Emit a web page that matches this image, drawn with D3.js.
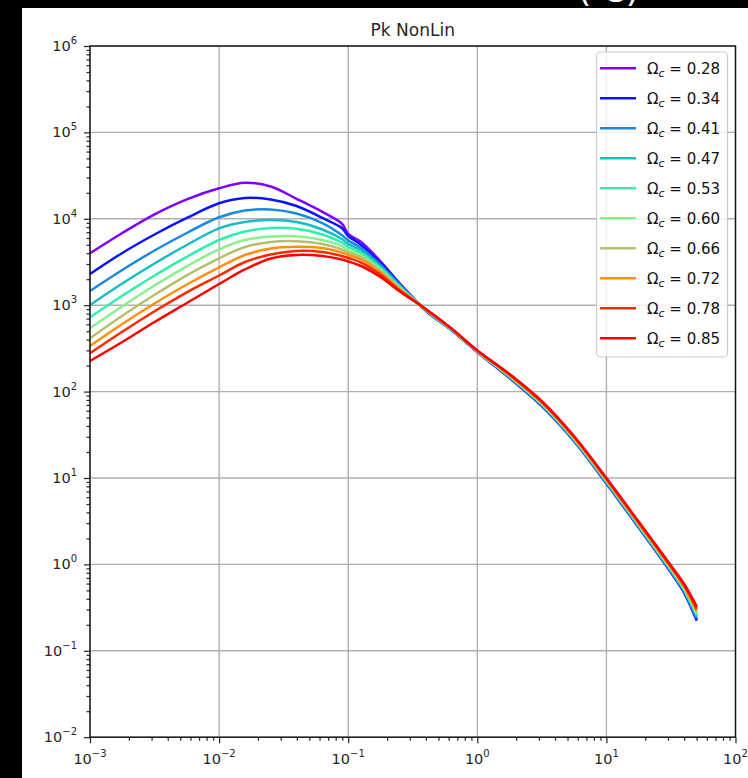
<!DOCTYPE html>
<html><head><meta charset="utf-8">
<script src="https://cdn.jsdelivr.net/npm/d3@7"></script>
<style>body{margin:0;background:#000;} svg{display:block;}</style>
</head><body>
<svg id="chart" width="748" height="778"></svg>
<script>
// ---- data ----
const kValues = [0.001, 0.001778, 0.003162, 0.005623, 0.01, 0.01585, 0.02512, 0.03981, 0.0631, 0.08913, 0.1, 0.1259, 0.1778, 0.2512, 0.3981, 0.631, 1, 1.778, 3.162, 5.623, 10, 17.78, 31.62, 39.81, 50.12];
const omegaLabels = ["0.28", "0.34", "0.41", "0.47", "0.53", "0.60", "0.66", "0.72", "0.78", "0.85"];
const seriesColors = ["#7f00ff", "#0a14ff", "#1a8ae0", "#17bcc4", "#2ef0a8", "#88f08c", "#b4c070", "#ff9010", "#ff2800", "#ff0000"];
const pk028 = [3990, 6850, 11270, 16810, 22540, 26100, 23650, 17040, 12020, 8820, 6670, 5390, 3220, 1783, 868, 516, 287, 145.2, 68.7, 26.9, 8.75, 2.71, 0.819, 0.484, 0.2315];
const pk034 = [2296, 4020, 6580, 10220, 15110, 17410, 16720, 14060, 10220, 7830, 6320, 4975, 3080, 1759, 868, 516, 287, 143.7, 67.8, 26.6, 8.64, 2.67, 0.804, 0.473, 0.223];
const pk041 = [1460, 2555, 4300, 6850, 10410, 12480, 12810, 11520, 8940, 6490, 5610, 4590, 2920, 1713, 880, 519, 289, 146, 69.0, 27.1, 8.82, 2.73, 0.825, 0.490, 0.236];
const pk047 = [1005, 1783, 3040, 4975, 7760, 9180, 9690, 9180, 7520, 5840, 5110, 4300, 2800, 1668, 880, 522, 290, 148.3, 70.5, 27.7, 9.01, 2.80, 0.850, 0.508, 0.249];
const pk053 = [724, 1285, 2207, 3633, 5680, 7130, 7830, 7660, 6580, 5320, 4720, 4020, 2695, 1624, 880, 525, 292, 149.9, 71.5, 28.0, 9.16, 2.84, 0.866, 0.521, 0.259];
const pk060 = [540, 971, 1690, 2819, 4436, 5680, 6240, 6270, 5680, 4840, 4355, 3760, 2590, 1582, 892, 528, 293.5, 151.5, 72.4, 28.4, 9.28, 2.888, 0.882, 0.533, 0.269];
const pk066 = [414, 754, 1319, 2219, 3490, 4720, 5390, 5500, 5110, 4410, 4074, 3566, 2488, 1561, 892, 530, 295, 153.2, 73.4, 28.8, 9.43, 2.935, 0.899, 0.546, 0.279];
const pk072 = [337, 606, 1046, 1736, 2746, 3810, 4530, 4754, 4590, 4074, 3810, 3380, 2390, 1519, 892, 533, 297, 154.8, 74.4, 29.2, 9.56, 2.982, 0.916, 0.559, 0.2895];
const pk078 = [278, 492, 850, 1410, 2207, 3162, 3860, 4250, 4130, 3710, 3520, 3120, 2266, 1479, 904, 536, 298, 157.3, 76.0, 29.8, 9.79, 3.055, 0.943, 0.581, 0.306];
const pk085 = [226, 375, 639, 1060, 1759, 2590, 3470, 3810, 3710, 3380, 3205, 2842, 2121, 1440, 904, 537, 299, 160, 77.4, 30.4, 10.0, 3.129, 0.969, 0.601, 0.324];
const seriesValues = [pk028, pk034, pk041, pk047, pk053, pk060, pk066, pk072, pk078, pk085];
const xTickExponents = [-3, -2, -1, 0, 1, 2];
const yTickExponents = [-2, -1, 0, 1, 2, 3, 4, 5, 6];
const titleText = "Pk NonLin";

// ---- layout ----
const svg = d3.select("#chart");
const L = 90, R = 735.5, T = 46, B = 737.2;
const x = d3.scaleLog().domain([1e-3, 1e2]).range([L, R]);
const y = d3.scaleLog().domain([1e-2, 1e6]).range([B, T]);
const FONT = "DejaVu Sans, sans-serif";

svg.append("rect").attr("x", 22).attr("y", 8).attr("width", 726).attr("height", 770).attr("fill", "#fff");

// partially visible white heading at the very top (cut off in the original too)
svg.append("text").attr("x", 578).attr("y", 2).attr("fill", "#fff")
  .attr("font-family", FONT).attr("font-size", 34).text("(  C)");

// grid
const gGrid = svg.append("g");
xTickExponents.forEach(e => {
  gGrid.append("line").attr("x1", x(Math.pow(10, e))).attr("x2", x(Math.pow(10, e)))
    .attr("y1", T).attr("y2", B).attr("stroke", "#b0b0b0").attr("stroke-width", 1.4);
});
yTickExponents.forEach(e => {
  gGrid.append("line").attr("y1", y(Math.pow(10, e))).attr("y2", y(Math.pow(10, e)))
    .attr("x1", L).attr("x2", R).attr("stroke", "#b0b0b0").attr("stroke-width", 1.4);
});

// curves
const line = d3.line().x(d => x(d[0])).y(d => y(d[1])).curve(d3.curveCatmullRom.alpha(0.5));
const gLines = svg.append("g");
seriesValues.forEach((vals, i) => {
  gLines.append("path").datum(kValues.map((k, j) => [k, vals[j]]))
    .attr("d", line).attr("fill", "none").attr("stroke", seriesColors[i])
    .attr("stroke-width", 2.5).attr("stroke-linejoin", "round");
});

// axes with ticks
const minorVals = (lo, hi) => {
  const out = [];
  for (let e = lo; e < hi; e++) for (let m = 2; m <= 9; m++) out.push(m * Math.pow(10, e));
  return out;
};
const xMajor = xTickExponents.map(e => Math.pow(10, e));
const yMajor = yTickExponents.map(e => Math.pow(10, e));
function styleAxis(g) {
  g.select(".domain").remove();
  g.selectAll(".tick line").attr("stroke", "#222").attr("stroke-width", 1.2);
}
svg.append("g").attr("transform", `translate(0,${B})`)
  .call(d3.axisBottom(x).tickValues(xMajor).tickSize(6).tickFormat("")).call(styleAxis);
svg.append("g").attr("transform", `translate(0,${B})`)
  .call(d3.axisBottom(x).tickValues(minorVals(-3, 2)).tickSize(3.5).tickFormat("")).call(styleAxis);
svg.append("g").attr("transform", `translate(${L},0)`)
  .call(d3.axisLeft(y).tickValues(yMajor).tickSize(6).tickFormat("")).call(styleAxis);
svg.append("g").attr("transform", `translate(${L},0)`)
  .call(d3.axisLeft(y).tickValues(minorVals(-2, 6)).tickSize(3.5).tickFormat("")).call(styleAxis);

// spines
svg.append("rect").attr("x", L).attr("y", T).attr("width", R - L).attr("height", B - T)
  .attr("fill", "none").attr("stroke", "#111").attr("stroke-width", 1.4);

// tick labels
const supText = e => (e < 0 ? "\u2212" + Math.abs(e) : String(e));
xTickExponents.forEach(e => {
  const t = svg.append("text").attr("x", x(Math.pow(10, e))).attr("y", 764)
    .attr("text-anchor", "middle").attr("font-family", FONT).attr("font-size", 14.5).attr("fill", "#262626");
  t.append("tspan").text("10");
  t.append("tspan").attr("dy", -7).attr("font-size", 10).text(supText(e));
});
yTickExponents.forEach(e => {
  const t = svg.append("text").attr("x", 77).attr("y", y(Math.pow(10, e)) + 5)
    .attr("text-anchor", "end").attr("font-family", FONT).attr("font-size", 14.5).attr("fill", "#262626");
  t.append("tspan").text("10");
  t.append("tspan").attr("dy", -7).attr("font-size", 10).text(supText(e));
});

// title
svg.append("text").attr("x", (L + R) / 2).attr("y", 36).attr("text-anchor", "middle")
  .attr("font-family", FONT).attr("font-size", 17).attr("fill", "#262626").text(titleText);

// legend
const lg = svg.append("g");
lg.append("rect").attr("x", 596.5).attr("y", 52).attr("width", 131).attr("height", 305).attr("rx", 4)
  .attr("fill", "#fff").attr("fill-opacity", 0.8).attr("stroke", "#cccccc").attr("stroke-width", 1.2);
omegaLabels.forEach((lab, i) => {
  const yy = 68.3 + 30 * i;
  lg.append("line").attr("x1", 600).attr("x2", 636).attr("y1", yy).attr("y2", yy)
    .attr("stroke", seriesColors[i]).attr("stroke-width", 2.6);
  const t = lg.append("text").attr("x", 647).attr("y", yy + 5.5)
    .attr("font-family", FONT).attr("font-size", 15).attr("fill", "#111");
  t.append("tspan").text("\u03A9");
  t.append("tspan").attr("dy", 3.5).attr("font-size", 11).attr("font-style", "italic").text("c");
  t.append("tspan").attr("dy", -3.5).text(" = " + lab);
});
</script>
</body></html>
